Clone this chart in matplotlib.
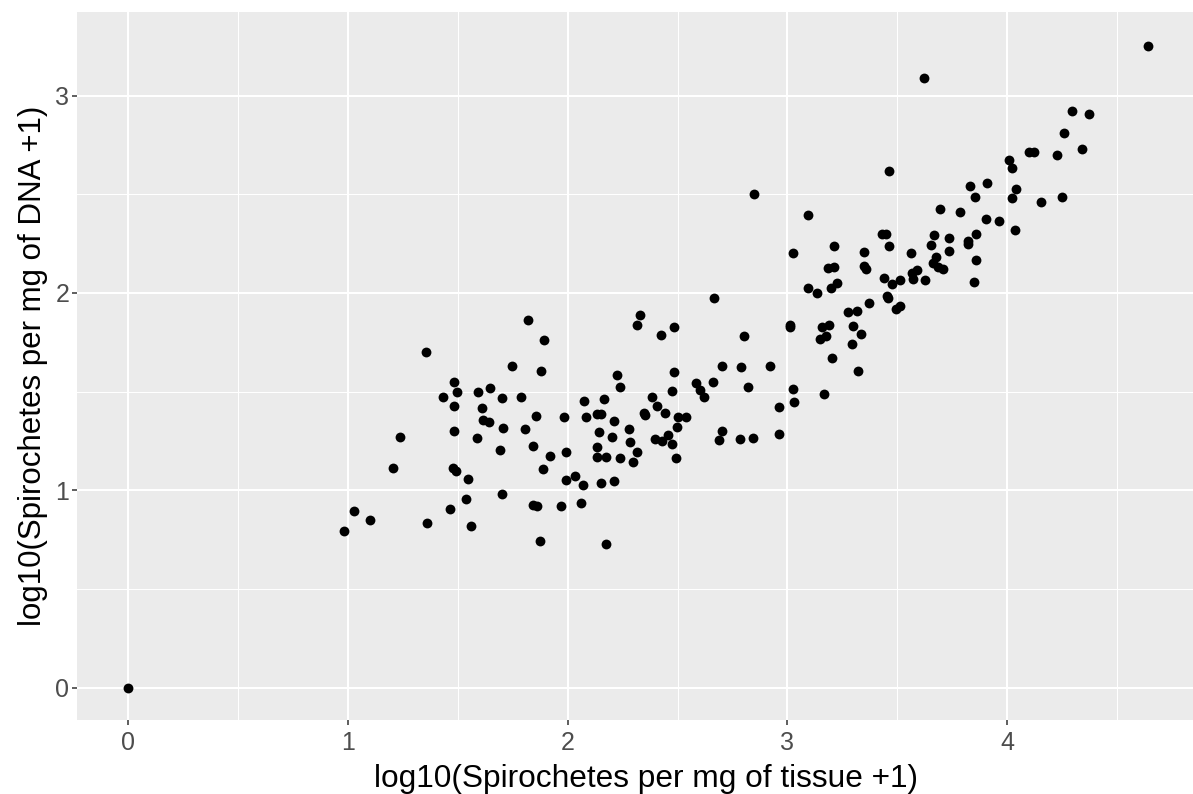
import numpy as np
import matplotlib
matplotlib.use("Agg")
import matplotlib.pyplot as plt
from matplotlib.ticker import MultipleLocator

# ─────────────────────────────────────────────────────────────
# Data (log10 spirochete loads)
# ─────────────────────────────────────────────────────────────
tissue = [
    1.820, 1.357, 1.748, 1.485, 1.434, 1.495, 1.591, 1.646, 1.700, 1.788,
    1.482, 1.612, 1.616, 1.644, 1.707, 1.806, 1.485, 1.236, 1.588, 1.694,
    1.841, 1.207, 1.479, 1.491, 1.545, 1.700, 1.538, 1.465, 1.028, 1.101,
    0.981, 1.362, 1.562, 1.841, 1.862,
    2.666, 2.331, 2.317, 2.484, 2.426, 1.894, 1.879, 2.223, 2.238, 2.483,
    2.475, 2.701, 2.787, 2.662, 2.584, 2.602, 2.621, 2.385, 2.405, 2.076,
    2.167, 1.855, 1.985, 2.082, 2.132, 2.152, 2.210, 2.346, 2.352, 2.445,
    2.501, 2.537, 2.498, 2.281, 2.143, 2.203, 2.283, 2.398, 2.431, 2.455,
    2.474, 2.704, 2.689, 2.784, 2.843, 2.134, 2.132, 2.175, 1.993, 1.919,
    2.240, 2.314, 2.298, 2.493, 1.889, 2.032, 1.991, 2.071, 2.153, 2.211,
    1.970, 2.062, 1.876, 2.176,
    2.848, 3.092, 3.693, 3.027, 3.212, 3.185, 3.213, 3.092, 3.133, 3.198,
    3.227, 3.349, 3.349, 3.356, 3.429, 3.447, 3.462, 3.439, 3.477, 3.512,
    3.452, 3.456, 3.493, 3.512, 3.370, 3.276, 3.315, 3.010, 3.010, 3.157,
    3.191, 3.148, 3.176, 3.298, 3.336, 3.294, 3.204, 3.320, 2.804, 2.919,
    2.821, 3.027, 3.030, 2.960, 3.168, 2.962, 3.562, 3.567, 3.588, 3.573,
    3.627, 3.666, 3.655, 3.675, 3.661, 3.684, 3.709, 3.735, 3.735,
    3.621, 3.461,
    4.639, 4.293, 4.374, 4.258, 4.342, 4.225, 4.098, 4.122, 4.007, 4.023,
    3.829, 3.909, 3.855, 4.040, 4.020, 4.152, 4.249, 3.785, 3.902, 3.964,
    4.037, 3.857, 3.823, 3.823, 3.859, 3.849,
    0.000,
]
dna = [
    1.861, 1.701, 1.632, 1.548, 1.475, 1.497, 1.497, 1.519, 1.470, 1.472,
    1.426, 1.416, 1.359, 1.347, 1.315, 1.312, 1.303, 1.270, 1.265, 1.207,
    1.226, 1.114, 1.114, 1.096, 1.057, 0.981, 0.954, 0.907, 0.894, 0.851,
    0.796, 0.833, 0.819, 0.926, 0.922,
    1.973, 1.887, 1.836, 1.828, 1.786, 1.762, 1.603, 1.583, 1.523, 1.602,
    1.504, 1.632, 1.625, 1.551, 1.544, 1.507, 1.475, 1.473, 1.428, 1.453,
    1.462, 1.376, 1.371, 1.372, 1.386, 1.386, 1.351, 1.393, 1.381, 1.393,
    1.371, 1.371, 1.319, 1.310, 1.298, 1.271, 1.246, 1.261, 1.249, 1.280,
    1.234, 1.303, 1.256, 1.259, 1.265, 1.219, 1.168, 1.167, 1.194, 1.175,
    1.165, 1.194, 1.145, 1.165, 1.108, 1.074, 1.052, 1.025, 1.037, 1.047,
    0.922, 0.936, 0.745, 0.727,
    2.502, 2.393, 2.426, 2.204, 2.236, 2.128, 2.131, 2.027, 1.998, 2.027,
    2.049, 2.207, 2.136, 2.123, 2.300, 2.300, 2.236, 2.077, 2.047, 2.064,
    1.983, 1.976, 1.921, 1.934, 1.949, 1.902, 1.910, 1.840, 1.828, 1.826,
    1.836, 1.767, 1.784, 1.831, 1.792, 1.742, 1.668, 1.607, 1.782, 1.629,
    1.526, 1.512, 1.448, 1.421, 1.489, 1.288, 2.204, 2.101, 2.118, 2.070,
    2.065, 2.295, 2.244, 2.184, 2.151, 2.131, 2.121, 2.279, 2.210,
    3.089, 2.620,
    3.252, 2.922, 2.905, 2.811, 2.731, 2.700, 2.713, 2.716, 2.671, 2.635,
    2.541, 2.558, 2.485, 2.526, 2.480, 2.463, 2.485, 2.411, 2.376, 2.364,
    2.318, 2.301, 2.263, 2.249, 2.166, 2.055,
    0.000,
]

x_ticks = [0, 1, 2, 3, 4]
y_ticks = [0, 1, 2, 3]

# ─────────────────────────────────────────────────────────────
# Plot (ggplot2 theme_gray look)
# ─────────────────────────────────────────────────────────────
plt.rcParams["font.family"] = ["Liberation Sans", "DejaVu Sans"]

W, H = 1193, 794
fig = plt.figure(figsize=(W / 100, H / 100), dpi=100)
left, top, bottom = 77, 12, 720
ax = fig.add_axes([left / W, (H - bottom) / H, (W - left) / W, (bottom - top) / H])
ax.set_facecolor("#EBEBEB")

ax.scatter(tissue, dna, s=50, color="black", linewidths=0, zorder=3)

ax.set_xlim(-0.232, 4.845)
ax.set_ylim(-0.163, 3.423)
ax.set_xticks(x_ticks)
ax.set_yticks(y_ticks)
ax.xaxis.set_minor_locator(MultipleLocator(0.5))
ax.yaxis.set_minor_locator(MultipleLocator(0.5))

ax.grid(which="major", color="white", linewidth=1.5, zorder=1)
ax.grid(which="minor", color="white", linewidth=0.75, zorder=1)
ax.set_axisbelow(True)
for sp in ax.spines.values():
    sp.set_visible(False)

ax.tick_params(which="major", length=3.6, width=1.1, color="#333333",
               labelsize=18, labelcolor="#4D4D4D")
ax.tick_params(axis="x", which="major", pad=4)
ax.tick_params(axis="y", which="major", pad=2)
ax.tick_params(which="minor", length=0)

ax.set_xlabel("log10(Spirochetes per mg of tissue +1)", fontsize=22.8, color="black")
ax.set_ylabel("log10(Spirochetes per mg of DNA +1)", fontsize=22.5, color="black", labelpad=5)
# ggplot centres the title on the full panel, which runs slightly past the image edge
ax.xaxis.set_label_coords(0.51, -0.062)

plt.savefig("out.png", dpi=100)
